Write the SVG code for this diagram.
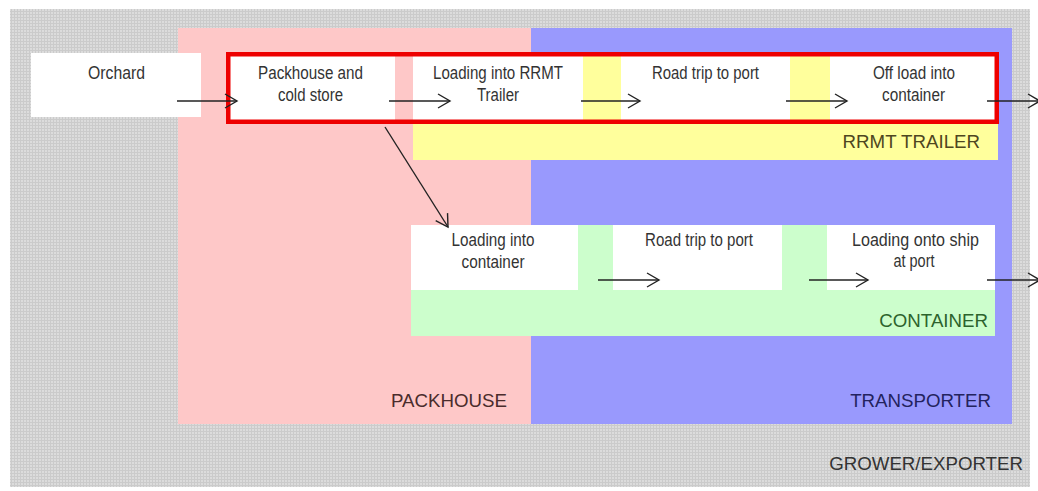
<svg xmlns="http://www.w3.org/2000/svg" width="1038" height="491" viewBox="0 0 1038 491">
  <defs>
    <pattern id="grid" width="3" height="3" patternUnits="userSpaceOnUse">
      <rect width="3" height="3" fill="#cbcbcb"/>
      <rect width="2" height="2" fill="#dcdcdc"/>
    </pattern>
    <marker id="arr" markerUnits="userSpaceOnUse" markerWidth="16" markerHeight="18" refX="13" refY="8" orient="auto" viewBox="0 0 16 16">
      <path d="M1,1 L13,8 L1,15" fill="none" stroke="#222" stroke-width="1.4"/>
    </marker>
    <style>
      .box { fill: #ffffff; }
      .t { font-family: "Liberation Sans", Arial, sans-serif; font-size: 17.5px; fill: #333; text-anchor: middle; }
      .lbl { font-family: "Liberation Sans", Arial, sans-serif; font-size: 18.7px; text-anchor: end; }
      .conn { fill: none; stroke: #222; stroke-width: 1.4; marker-end: url(#arr); }
    </style>
  </defs>
  <rect width="1038" height="491" fill="#ffffff"/>

  <g id="grower-exporter">
    <rect x="10" y="9" width="1020" height="478" fill="url(#grid)"/>
    <text class="lbl" x="1023" y="470" fill="#333">GROWER/EXPORTER</text>
  </g>
  <g id="packhouse-zone">
    <rect x="178" y="28" width="353" height="396" fill="#fec8c8"/>
    <text class="lbl" x="507" y="407" fill="#4a2c2c">PACKHOUSE</text>
  </g>
  <g id="transporter-zone">
    <rect x="531" y="28" width="481" height="396" fill="#9999fd"/>
    <text class="lbl" x="991" y="407" fill="#23235e">TRANSPORTER</text>
  </g>
  <g id="rrmt-trailer-zone">
    <rect x="413" y="53" width="585" height="107" fill="#ffff9c"/>
    <text class="lbl" x="980" y="148" fill="#4e4620">RRMT TRAILER</text>
  </g>
  <g id="container-zone">
    <rect x="411" y="225" width="584" height="111" fill="#ccfecc"/>
    <text class="lbl" x="988" y="327" fill="#2c632c">CONTAINER</text>
  </g>

  <g id="orchard">
    <rect class="box" x="31" y="53" width="170" height="64"/>
    <text class="t" x="116.5" y="79" textLength="57" lengthAdjust="spacingAndGlyphs">Orchard</text>
  </g>
  <g id="packhouse-cold-store">
    <rect class="box" x="227" y="53" width="168" height="71"/>
    <text class="t" x="310.5" y="79" textLength="105" lengthAdjust="spacingAndGlyphs">Packhouse and</text>
    <text class="t" x="310.5" y="101" textLength="65" lengthAdjust="spacingAndGlyphs">cold store</text>
  </g>
  <g id="loading-rrmt">
    <rect class="box" x="413" y="53" width="170" height="71"/>
    <text class="t" x="498" y="79" textLength="130" lengthAdjust="spacingAndGlyphs">Loading into RRMT</text>
    <text class="t" x="498" y="101" textLength="42" lengthAdjust="spacingAndGlyphs">Trailer</text>
  </g>
  <g id="road-trip-trailer">
    <rect class="box" x="621" y="53" width="169" height="71"/>
    <text class="t" x="705.5" y="79" textLength="107" lengthAdjust="spacingAndGlyphs">Road trip to port</text>
  </g>
  <g id="off-load">
    <rect class="box" x="830" y="53" width="168" height="71"/>
    <text class="t" x="914" y="79" textLength="82" lengthAdjust="spacingAndGlyphs">Off load into</text>
    <text class="t" x="913.5" y="101" textLength="63" lengthAdjust="spacingAndGlyphs">container</text>
  </g>
  <rect x="228.25" y="54.25" width="768.5" height="67.5" fill="none" stroke="#ee0000" stroke-width="4.5"/>

  <g id="loading-container">
    <rect class="box" x="411" y="225" width="167" height="65"/>
    <text class="t" x="493" y="246" textLength="83" lengthAdjust="spacingAndGlyphs">Loading into</text>
    <text class="t" x="493" y="268" textLength="63" lengthAdjust="spacingAndGlyphs">container</text>
  </g>
  <g id="road-trip-container">
    <rect class="box" x="613" y="225" width="169" height="65"/>
    <text class="t" x="699" y="246" textLength="108" lengthAdjust="spacingAndGlyphs">Road trip to port</text>
  </g>
  <g id="loading-ship">
    <rect class="box" x="827" y="225" width="168" height="65"/>
    <text class="t" x="915.5" y="246" textLength="127" lengthAdjust="spacingAndGlyphs">Loading onto ship</text>
    <text class="t" x="914" y="267" textLength="41" lengthAdjust="spacingAndGlyphs">at port</text>
  </g>

  <g id="connectors">
    <line class="conn" x1="177" y1="101" x2="237" y2="101"/>
    <line class="conn" x1="389" y1="101" x2="450" y2="101"/>
    <line class="conn" x1="581" y1="101" x2="640" y2="101"/>
    <line class="conn" x1="786" y1="101" x2="847" y2="101"/>
    <line class="conn" x1="987" y1="101" x2="1040" y2="101"/>
    <line class="conn" x1="385" y1="127" x2="448" y2="227"/>
    <line class="conn" x1="598" y1="280" x2="659" y2="280"/>
    <line class="conn" x1="809" y1="280" x2="868" y2="280"/>
    <line class="conn" x1="987" y1="280" x2="1040" y2="280"/>
  </g>
</svg>
